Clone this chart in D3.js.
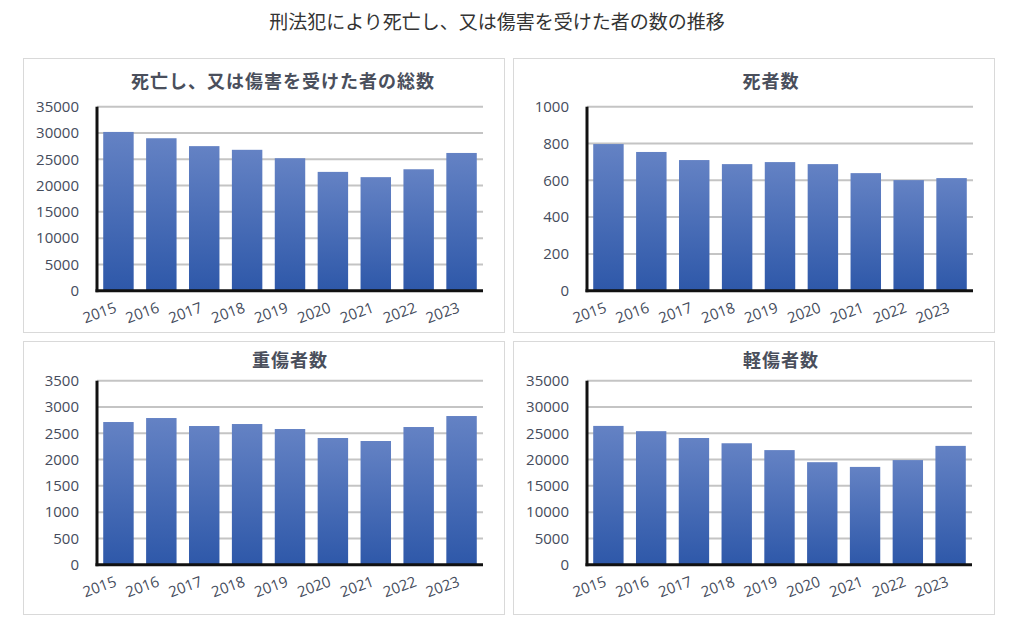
<!DOCTYPE html>
<html><head><meta charset="utf-8">
<script src="https://cdn.jsdelivr.net/npm/d3@7"></script>
<style>
html,body{margin:0;padding:0;background:#fff;}
svg{display:block;}
</style>
</head><body>
<svg id="chart" width="1012" height="631"></svg>
<script>
const mainTitle = "刑法犯により死亡し、又は傷害を受けた者の数の推移";
const years = ["2015","2016","2017","2018","2019","2020","2021","2022","2023"];
const totalValues   = [30200, 29000, 27500, 26800, 25200, 22600, 21600, 23100, 26200];
const deathValues   = [797, 754, 710, 688, 699, 688, 639, 601, 612];
const seriousValues = [2714, 2790, 2638, 2676, 2581, 2410, 2353, 2619, 2828];
const minorValues   = [26400, 25400, 24100, 23100, 21800, 19500, 18600, 19900, 22600];
const panelTitles = ["死亡し、又は傷害を受けた者の総数", "死者数", "重傷者数", "軽傷者数"];
const totalTicks   = [0, 5000, 10000, 15000, 20000, 25000, 30000, 35000];
const deathTicks   = [0, 200, 400, 600, 800, 1000];
const seriousTicks = [0, 500, 1000, 1500, 2000, 2500, 3000, 3500];
const minorTicks   = [0, 5000, 10000, 15000, 20000, 25000, 30000, 35000];

const panels = [
  {title: panelTitles[0], values: totalValues, ticks: totalTicks,
   box:{x:23,y:58,w:481,h:274}, plot:{l:97,r:483,t:106.7,b:290.7}, tx:283, ty:88},
  {title: panelTitles[1], values: deathValues, ticks: deathTicks,
   box:{x:513,y:58,w:481,h:274}, plot:{l:587,r:973,t:106.7,b:290.7}, tx:771, ty:88},
  {title: panelTitles[2], values: seriousValues, ticks: seriousTicks,
   box:{x:23,y:341,w:481,h:273}, plot:{l:97,r:483,t:380.7,b:564.7}, tx:290, ty:367},
  {title: panelTitles[3], values: minorValues, ticks: minorTicks,
   box:{x:513,y:341,w:481,h:273}, plot:{l:587,r:972,t:380.7,b:564.7}, tx:781, ty:367}
];

const svg = d3.select("#chart");
const defs = svg.append("defs");
const grad = defs.append("linearGradient").attr("id","barGrad")
  .attr("x1",0).attr("y1",0).attr("x2",0).attr("y2",1);
grad.append("stop").attr("offset","0%").attr("stop-color","#6482c4");
grad.append("stop").attr("offset","100%").attr("stop-color","#2e58a9");

const numFont = "'Open Sans','Noto Sans',sans-serif";
const jpFont = "'Noto Sans CJK JP','Noto Sans',sans-serif";
const textColor = "#454c5c";

svg.append("text")
  .attr("x", 497).attr("y", 29)
  .attr("text-anchor","middle")
  .attr("font-family", jpFont)
  .attr("font-size", 19)
  .attr("fill","#333")
  .text(mainTitle);

panels.forEach(p => {
  const g = svg.append("g");
  g.append("rect")
    .attr("x", p.box.x+0.5).attr("y", p.box.y+0.5)
    .attr("width", p.box.w).attr("height", p.box.h)
    .attr("fill","#fff").attr("stroke","#d9d9d9").attr("stroke-width",1);

  const x = d3.scaleBand().domain(years).range([p.plot.l, p.plot.r])
    .paddingInner(0.29).paddingOuter(0.145);
  const yMax = p.ticks[p.ticks.length-1];
  const y = d3.scaleLinear().domain([0, yMax]).range([p.plot.b, p.plot.t]);

  // gridlines
  g.append("g").selectAll("line").data(p.ticks.filter(t => t > 0)).join("line")
    .attr("x1", p.plot.l).attr("x2", p.plot.r)
    .attr("y1", d => y(d)).attr("y2", d => y(d))
    .attr("stroke","#c4c4c4").attr("stroke-width",2);

  // bars
  g.append("g").selectAll("rect").data(p.values).join("rect")
    .attr("x", (d,i) => x(years[i]))
    .attr("width", x.bandwidth())
    .attr("y", d => y(d))
    .attr("height", d => y(0) - y(d))
    .attr("fill","url(#barGrad)");

  // y axis
  const yAxis = d3.axisLeft(y).tickValues(p.ticks).tickSize(0).tickPadding(18)
    .tickFormat(d3.format("d"));
  const ya = g.append("g").attr("transform", `translate(${p.plot.l},0)`).call(yAxis);
  ya.select(".domain").remove();
  ya.selectAll("text").attr("font-family", numFont).attr("font-size", 15)
    .attr("fill", textColor);

  // x axis
  const xAxis = d3.axisBottom(x).tickSize(0).tickPadding(0);
  const xa = g.append("g").attr("transform", `translate(0,${p.plot.b})`).call(xAxis);
  xa.select(".domain").remove();
  xa.selectAll("text")
    .attr("font-family", numFont).attr("font-size", 15).attr("fill", textColor)
    .attr("text-anchor","end")
    .attr("dy", null)
    .attr("y", 0)
    .attr("transform", `translate(-1,21) rotate(-20)`);

  // axis lines
  g.append("line").attr("x1", p.plot.l).attr("x2", p.plot.l)
    .attr("y1", p.plot.t).attr("y2", p.plot.b + 1.5)
    .attr("stroke","#111").attr("stroke-width",3);
  g.append("line").attr("x1", p.plot.l - 1.5).attr("x2", p.plot.r)
    .attr("y1", p.plot.b).attr("y2", p.plot.b)
    .attr("stroke","#111").attr("stroke-width",3);

  // title
  g.append("text")
    .attr("x", p.tx).attr("y", p.ty)
    .attr("text-anchor","middle")
    .attr("font-family", jpFont).attr("font-weight","bold")
    .attr("font-size", 18).attr("letter-spacing", 1)
    .attr("fill", "#4a4f5c")
    .text(p.title);
});
</script>
</body></html>
